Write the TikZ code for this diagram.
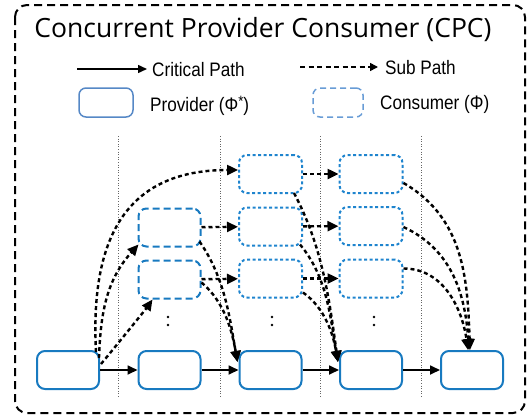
\documentclass[tikz,border=0pt]{standalone}
\usepackage{fontspec}
\setmainfont{Liberation Sans}
\newfontfamily\titlefont{Open Sans}
\newfontfamily\legendfont[FakeStretch=0.88]{Liberation Sans}
\usetikzlibrary{arrows.meta,calc}
\definecolor{provblue}{RGB}{24,122,192}
\definecolor{legprov}{RGB}{86,136,198}
\definecolor{consblue}{RGB}{30,132,206}
\definecolor{legcons}{RGB}{104,156,214}
\tikzset{
  x=1pt, y=-1pt,
  provider/.style={draw=provblue, line width=2pt, rounded corners=8pt,
    minimum width=62pt, minimum height=38pt, inner sep=0pt},
  consumerA/.style={draw=provblue, line width=2pt, rounded corners=8pt,
    dash pattern=on 7pt off 4pt, minimum width=62pt, minimum height=38pt, inner sep=0pt},
  consumerB/.style={draw=consblue, line width=2pt, rounded corners=8pt,
    dash pattern=on 3pt off 2.5pt, minimum width=63pt, minimum height=38pt, inner sep=0pt},
  crit/.style={line width=1.7pt, -{Triangle[length=10pt,width=9pt]}},
  sub/.style={line width=2.4pt, dash pattern=on 4pt off 3pt, -{Triangle[length=11pt,width=10pt]}},
  column/.style={gray!80!black, line width=0.6pt, dotted},
  legtext/.style={anchor=west, inner sep=0pt, font=\legendfont\fontsize{19.5}{22}\selectfont},
}
\begin{document}
\begin{tikzpicture}
\useasboundingbox (0,0) rectangle (531,418);
% outer frame
\draw[line width=2pt, dash pattern=on 8pt off 5pt, rounded corners=12pt] (15,5) rectangle (525,413);
% title
\node[font=\titlefont\fontsize{26.5}{30}\selectfont, inner sep=0pt] (title) at (263,30) {Concurrent Provider Consumer (CPC)};

% legend
\coordinate (lcA) at (77,69);
\coordinate (lcB) at (147,69);
\draw[line width=1.5pt, -{Triangle[length=9pt,width=8pt]}] (lcA) -- (lcB);
\node[legtext] (lcT) at (152,70) {Critical Path};
\coordinate (lsA) at (300,67);
\coordinate (lsB) at (378,67);
\draw[line width=1.5pt, dash pattern=on 5pt off 3.5pt, -{Triangle[length=8pt,width=8pt]}] (lsA) -- (lsB);
\node[legtext] (lsT) at (385,68) {Sub Path};
\node[draw=legprov, line width=1.5pt, rounded corners=7pt, minimum width=54pt, minimum height=29pt] (lp) at (106,102.5) {};
\node[legtext] (lpT) at (150,106) {Provider (Φ\raisebox{0.28em}{\fontsize{15}{15}\selectfont *})};
\node[draw=legcons, line width=1.5pt, dash pattern=on 6pt off 4pt, rounded corners=7pt, minimum width=50pt, minimum height=29pt] (lc) at (338,102.5) {};
\node[legtext] (lcT2) at (380,104) {Consumer (Φ)};

% column separators
\foreach \xx in {118,220,320,421} \draw[column] (\xx,136) -- (\xx,397);

% providers (critical path)
\node[provider] (P1) at (68,370) {};
\node[provider] (P2) at (169.5,370) {};
\node[provider] (P3) at (270.5,370) {};
\node[provider] (P4) at (371,370) {};
\node[provider] (P5) at (472,370) {};

% consumers
\node[consumerA] (C2a) at (169.5,227.5) {};
\node[consumerA] (C2b) at (169.5,279.5) {};
\node[consumerB] (C3a) at (270.5,174) {};
\node[consumerB] (C3b) at (270.5,226.5) {};
\node[consumerB] (C3c) at (270.5,278.5) {};
\node[consumerB] (C4a) at (371,174) {};
\node[consumerB] (C4b) at (371,226) {};
\node[consumerB] (C4c) at (371,278.5) {};

% vertical ellipses
\foreach \xx in {168,272,374} {
  \fill (\xx,317) circle (1.4pt);
  \fill (\xx,325) circle (1.4pt);
}

% critical path
\draw[crit] (P1) -- (P2);
\draw[crit] (P2) -- (P3);
\draw[crit] (P3) -- (P4);
\draw[crit] (P4) -- (P5);

% sub paths out of the first provider
\draw[sub] ($(P1.north east)+(-4,2)$) to[out=93, in=180, looseness=1.25] ($(C3a.west)+(0,-4)$);
\draw[sub] ($(P1.north east)+(-1,8)$) to[out=88, in=228, looseness=1] ($(C2a.south west)+(1,-3)$);
\draw[sub] ($(P1.east)+(1,-6)$) to[out=50, in=235, looseness=0.4] ($(C2b.south west)+(15,0)$);

% consumer to consumer
\draw[sub] (C2a) -- (C3b);
\draw[sub] (C2b) -- (C3c);
\draw[sub] (C3a) -- (C4a);
\draw[sub] (C3b) -- (C4b);
\draw[sub] (C3c) -- (C4c);

% consumers feeding the third provider
\draw[sub] ($(C2a.south east)+(-2,-6)$) to[out=-55, in=100, looseness=0.9] ($(P3.west)+(-1,-8)$);
\draw[sub] ($(C2b.east)+(0,3)$) to[out=-40, in=100, looseness=0.9] ($(P3.west)+(-1,-8)$);

% consumers feeding the fourth provider
\draw[sub] ($(C3a.south east)+(-9,-1)$) to[out=-62, in=98, looseness=0.9] ($(P4.west)+(-1,-8)$);
\draw[sub] ($(C3b.south east)+(-3,-2)$) to[out=-50, in=100, looseness=0.9] ($(P4.west)+(-1,-8)$);
\draw[sub] ($(C3c.east)+(0,14)$) to[out=-35, in=100, looseness=0.9] ($(P4.west)+(-1,-8)$);

% consumers feeding the last provider
\draw[sub] ($(C4a.east)+(0,9)$) to[out=-30, in=92, looseness=1] ($(P5.north)+(-2,0)$);
\draw[sub] ($(C4b.east)+(0,1)$) to[out=-25, in=94, looseness=1] ($(P5.north)+(-3,0)$);
\draw[sub] ($(C4c.east)+(0,-10)$) to[out=0, in=98, looseness=1] ($(P5.north)+(-4,0)$);
\end{tikzpicture}
\end{document}
